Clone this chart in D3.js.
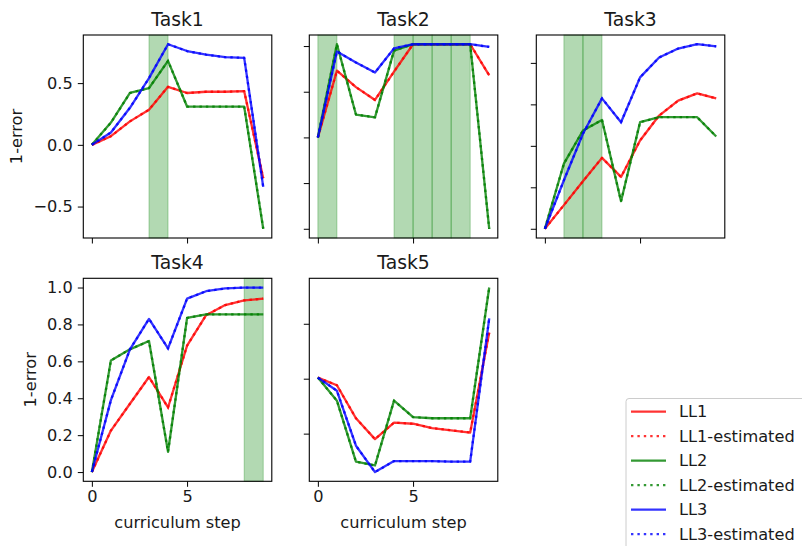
<!DOCTYPE html>
<html>
<head>
<meta charset="utf-8">
<script src="https://cdn.jsdelivr.net/npm/d3@7"></script>
<style>
  body { margin: 0; background: #fff; }
  text { font-family: "DejaVu Sans", sans-serif; }
</style>
</head>
<body>
<script>
// curriculum steps on the x axis
const steps = [0, 1, 2, 3, 4, 5, 6, 7, 8, 9];
const taskNames = ["Task1", "Task2", "Task3", "Task4", "Task5"];

// 1-error per task (rows = Task1..Task5)
const ll1 = [
  [0, 0.07, 0.19, 0.285, 0.47, 0.42, 0.43, 0.43, 0.435, -0.27],
  [0, 0.73, 0.55, 0.41, 0.72, 1.02, 1.02, 1.02, 1.02, 0.68],
  [0, 0.114, 0.229, 0.342, 0.25, 0.426, 0.546, 0.618, 0.653, 0.629],
  [0, 0.225, 0.37, 0.515, 0.35, 0.685, 0.85, 0.905, 0.93, 0.94],
  [0.01, -0.06, -0.36, -0.55, -0.40, -0.41, -0.45, -0.47, -0.49, 0.42]
];
const ll2 = [
  [0, 0.18, 0.42, 0.46, 0.68, 0.31, 0.31, 0.31, 0.31, -0.68],
  [0, 1.02, 0.25, 0.22, 0.95, 1.02, 1.02, 1.02, 1.02, -1.0],
  [0, 0.314, 0.474, 0.525, 0.133, 0.514, 0.538, 0.538, 0.538, 0.445],
  [0, 0.605, 0.665, 0.71, 0.11, 0.835, 0.855, 0.855, 0.855, 0.855],
  [0.01, -0.2, -0.755, -0.79, -0.2, -0.35, -0.36, -0.36, -0.36, 0.83]
];
const ll3 = [
  [0, 0.1, 0.3, 0.54, 0.815, 0.76, 0.73, 0.71, 0.705, -0.34],
  [0, 0.94, 0.82, 0.71, 0.975, 1.02, 1.02, 1.02, 1.02, 0.99],
  [0, 0.234, 0.458, 0.629, 0.514, 0.73, 0.826, 0.869, 0.89, 0.88],
  [0, 0.39, 0.665, 0.83, 0.67, 0.94, 0.98, 0.995, 1.0, 1.0],
  [0.01, -0.11, -0.61, -0.85, -0.75, -0.75, -0.75, -0.755, -0.755, 0.55]
];
// estimated curves sit on top of the measured ones
const ll1Est = ll1, ll2Est = ll2, ll3Est = ll3;

// shaded curriculum intervals per task
const spans = [
  [[3, 4]],
  [[0, 1], [4, 5], [5, 6], [6, 7], [7, 8]],
  [[1, 2], [2, 3]],
  [[8, 9]],
  []
];

const xTicks = [0, 5];
const legendLabels = ["LL1", "LL1-estimated", "LL2", "LL2-estimated", "LL3", "LL3-estimated"];

const colors = ["#ff0000", "#008000", "#0000ff"];
const W = 188.5, H = 203;
const lefts = [83.3, 309.3, 536.3];
const tops = [35, 278.3];
const fs = 16.2;

const svg = d3.select("body").append("svg")
    .attr("width", 802)
    .attr("height", 546);

function drawPanel(i) {
    const row = Math.floor(i / 3), col = i % 3;
    const g = svg.append("g")
        .attr("transform", `translate(${lefts[col]},${tops[row]})`);

    const xScale = d3.scaleLinear().domain([-0.45, 9.45]).range([0, W]);
    const all = ll1[i].concat(ll2[i], ll3[i]);
    const [lo, hi] = d3.extent(all);
    const pad = (hi - lo) * 0.05;
    const yScale = d3.scaleLinear().domain([lo - pad, hi + pad]).range([H, 0]);

    g.selectAll("rect.span")
        .data(spans[i])
        .join("rect")
        .attr("class", "span")
        .attr("x", d => xScale(d[0]))
        .attr("y", 0)
        .attr("width", d => xScale(d[1]) - xScale(d[0]))
        .attr("height", H)
        .attr("fill", "green")
        .attr("fill-opacity", 0.3)
        .attr("stroke", "green")
        .attr("stroke-opacity", 0.3)
        .attr("stroke-width", 1);

    const line = d3.line()
        .x((d, k) => xScale(steps[k]))
        .y(d => yScale(d));

    const series = [ll1[i], ll2[i], ll3[i]];
    const estimated = [ll1Est[i], ll2Est[i], ll3Est[i]];
    series.forEach((s, k) => {
        g.append("path")
            .attr("d", line(s))
            .attr("fill", "none")
            .attr("stroke", colors[k])
            .attr("stroke-opacity", 0.8)
            .attr("stroke-width", 2.3)
            .attr("stroke-linejoin", "round");
        g.append("path")
            .attr("d", line(estimated[k]))
            .attr("fill", "none")
            .attr("stroke", colors[k])
            .attr("stroke-opacity", 0.8)
            .attr("stroke-width", 2.3)
            .attr("stroke-dasharray", "2.4,4");
    });

    // frame
    g.append("rect")
        .attr("width", W).attr("height", H)
        .attr("fill", "none")
        .attr("stroke", "#000")
        .attr("stroke-width", 1.1);

    const xAxis = g.append("g")
        .attr("transform", `translate(0,${H})`)
        .call(d3.axisBottom(xScale)
            .tickValues(xTicks)
            .tickSize(5.5)
            .tickPadding(4)
            .tickFormat(row === 1 ? d3.format("d") : ""));
    xAxis.select(".domain").remove();
    xAxis.selectAll("text").attr("font-size", fs).attr("fill", "#1a1a1a")
        .attr("font-family", "DejaVu Sans");

    const yAxis = g.append("g")
        .call(d3.axisLeft(yScale)
            .ticks(5)
            .tickSize(5.5)
            .tickPadding(5)
            .tickFormat(col === 0 ? d3.format(".1f") : ""));
    yAxis.select(".domain").remove();
    yAxis.selectAll("text").attr("font-size", fs).attr("fill", "#1a1a1a")
        .attr("font-family", "DejaVu Sans");

    g.append("text")
        .attr("x", W / 2)
        .attr("y", -9.5)
        .attr("text-anchor", "middle")
        .attr("font-size", 18.8)
        .attr("fill", "#1a1a1a")
        .text(taskNames[i]);

    if (col === 0) {
        const bb = yAxis.node().getBBox();
        const lx = bb.x - 17;
        g.append("text")
            .attr("transform", `translate(${lx},${H / 2}) rotate(-90)`)
            .attr("text-anchor", "middle")
            .attr("dy", "0.35em")
            .attr("font-size", fs)
            .attr("fill", "#1a1a1a")
            .text("1-error");
    }
    if (row === 1) {
        g.append("text")
            .attr("x", W / 2)
            .attr("y", H + 47)
            .attr("text-anchor", "middle")
            .attr("font-size", fs)
            .attr("fill", "#1a1a1a")
            .text("curriculum step");
    }
}

taskNames.forEach((t, i) => drawPanel(i));

// legend
const legend = svg.append("g").attr("transform", "translate(626,398.5)");
legend.append("rect")
    .attr("width", 200).attr("height", 170)
    .attr("rx", 3)
    .attr("fill", "#fff").attr("fill-opacity", 0.8)
    .attr("stroke", "#cccccc").attr("stroke-width", 1);

const items = legend.selectAll("g.item")
    .data(legendLabels)
    .join("g")
    .attr("class", "item")
    .attr("transform", (d, k) => `translate(0,${13.2 + k * 24.5})`);

items.append("line")
    .attr("x1", 5).attr("x2", 40)
    .attr("stroke", (d, k) => colors[Math.floor(k / 2)])
    .attr("stroke-opacity", 0.8)
    .attr("stroke-width", 2.3)
    .attr("stroke-dasharray", (d, k) => k % 2 ? "2.4,4" : null);

items.append("text")
    .attr("x", 53)
    .attr("dy", "0.35em")
    .attr("font-size", fs)
    .attr("fill", "#1a1a1a")
    .text(d => d);
</script>
</body>
</html>
